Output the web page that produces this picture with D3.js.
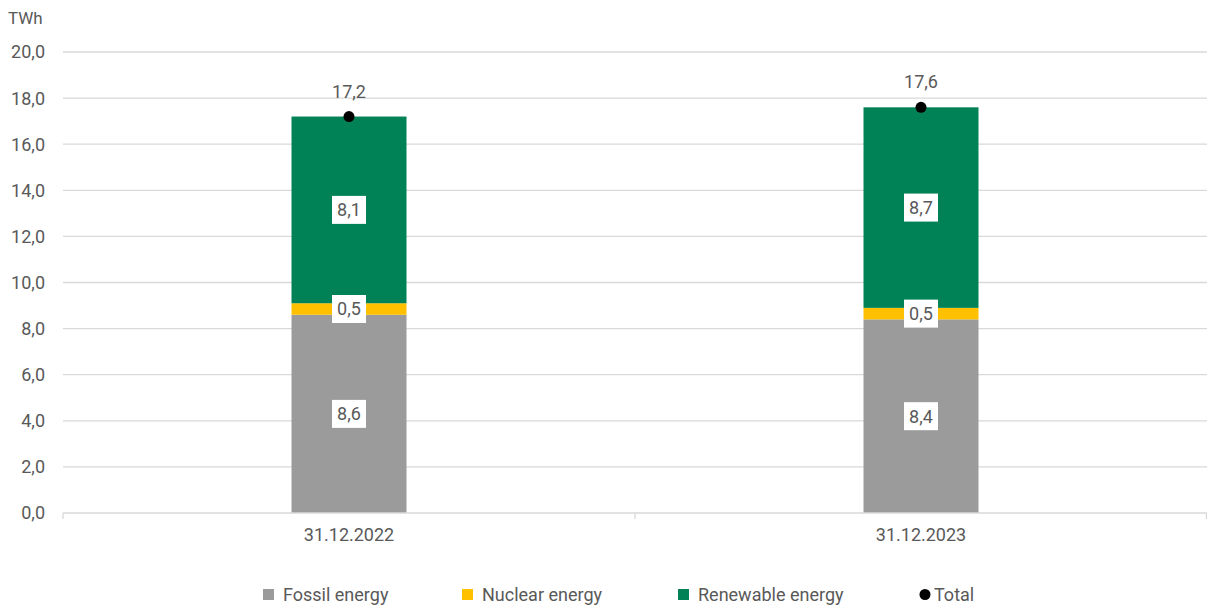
<!DOCTYPE html>
<html><head><meta charset="utf-8">
<script src="https://cdn.jsdelivr.net/npm/d3@7"></script>
<style>body{margin:0;background:#fff}svg{display:block}text{font-family:Roboto,"Noto Sans",sans-serif;fill:#595959}</style>
</head><body><svg id="c" width="1207" height="607"></svg>
<script>
const categories = ["31.12.2022", "31.12.2023"];
const fossil = [8.6, 8.4];
const nuclear = [0.5, 0.5];
const renewable = [8.1, 8.7];
const total = [17.2, 17.6];
const yTicks = [0, 2, 4, 6, 8, 10, 12, 14, 16, 18, 20];
const seriesNames = ["Fossil energy", "Nuclear energy", "Renewable energy"];
const colors = ["#9b9b9b", "#ffc000", "#008256"];

const svg = d3.select("#c");
const L = 63, R = 1207, T = 52, B = 513;
const FS = 18;
const x = d3.scaleBand().domain(categories).range([L, R]).paddingInner(0).paddingOuter(0);
const y = d3.scaleLinear().domain([0, 20]).range([B, T]);
const fmt = v => d3.format(".1f")(v).replace(".", ",");

// gridlines
svg.append("g").selectAll("line").data(yTicks.slice(1)).join("line")
  .attr("x1", L).attr("x2", R).attr("y1", d => y(d)).attr("y2", d => y(d))
  .attr("stroke", "#d9d9d9").attr("stroke-width", 1.3);

// y labels
svg.append("g").selectAll("text").data(yTicks).join("text")
  .attr("x", 45).attr("y", d => y(d)).attr("dy", "0.36em").attr("text-anchor", "end")
  .attr("font-size", FS).text(d => fmt(d));
svg.append("text").attr("x", 8).attr("y", 24).attr("font-size", 17).text("TWh");

// stacked data
const rows = categories.map((c, i) => ({cat: c, "Fossil energy": fossil[i], "Nuclear energy": nuclear[i], "Renewable energy": renewable[i]}));
const stack = d3.stack().keys(seriesNames)(rows);
const bw = 115;
const g = svg.append("g");
stack.forEach((s, si) => {
  g.selectAll(null).data(s).join("rect")
    .attr("x", d => x(d.data.cat) + x.bandwidth() / 2 - bw / 2)
    .attr("width", bw)
    .attr("y", d => y(d[1]))
    .attr("height", d => y(d[0]) - y(d[1]))
    .attr("fill", colors[si]);
});

// x axis
svg.append("line").attr("x1", L).attr("x2", R).attr("y1", B).attr("y2", B).attr("stroke", "#d9d9d9").attr("stroke-width", 1.3);
[L, L + x.bandwidth(), R - 0.5].forEach(px => {
  svg.append("line").attr("x1", px).attr("x2", px).attr("y1", B).attr("y2", B + 6).attr("stroke", "#d9d9d9").attr("stroke-width", 1.3);
});
svg.append("g").selectAll("text").data(categories).join("text")
  .attr("x", d => x(d) + x.bandwidth() / 2).attr("y", 541).attr("text-anchor", "middle")
  .attr("font-size", FS).text(d => d);

// data labels
stack.forEach((s, si) => {
  s.forEach(d => {
    const cx = x(d.data.cat) + x.bandwidth() / 2;
    const cy = y((d[0] + d[1]) / 2);
    const t = fmt(d[1] - d[0]);
    const lg = svg.append("g");
    const w = 34, h = 28;
    lg.append("rect").attr("x", cx - w / 2).attr("y", cy - h / 2).attr("width", w).attr("height", h).attr("fill", "#fff");
    lg.append("text").attr("x", cx).attr("y", cy).attr("dy", "0.36em").attr("text-anchor", "middle")
      .attr("font-size", FS).text(t);
  });
});

// totals
svg.append("g").selectAll("circle").data(categories).join("circle")
  .attr("cx", d => x(d) + x.bandwidth() / 2).attr("cy", (d, i) => y(total[i])).attr("r", 5.5).attr("fill", "#000");
svg.append("g").selectAll("text").data(categories).join("text")
  .attr("x", d => x(d) + x.bandwidth() / 2).attr("y", (d, i) => y(total[i]) - 19).attr("text-anchor", "middle")
  .attr("font-size", FS).text((d, i) => fmt(total[i]));

// legend
const leg = [{n: "Fossil energy", c: colors[0], x: 263}, {n: "Nuclear energy", c: colors[1], x: 462}, {n: "Renewable energy", c: colors[2], x: 678}];
leg.forEach(l => {
  svg.append("rect").attr("x", l.x).attr("y", 589).attr("width", 11).attr("height", 11).attr("fill", l.c);
  svg.append("text").attr("x", l.x + 20).attr("y", 601).attr("font-size", FS).text(l.n);
});
svg.append("circle").attr("cx", 925).attr("cy", 594.5).attr("r", 5.5).attr("fill", "#000");
svg.append("text").attr("x", 934).attr("y", 601).attr("font-size", FS).text("Total");
</script></body></html>
